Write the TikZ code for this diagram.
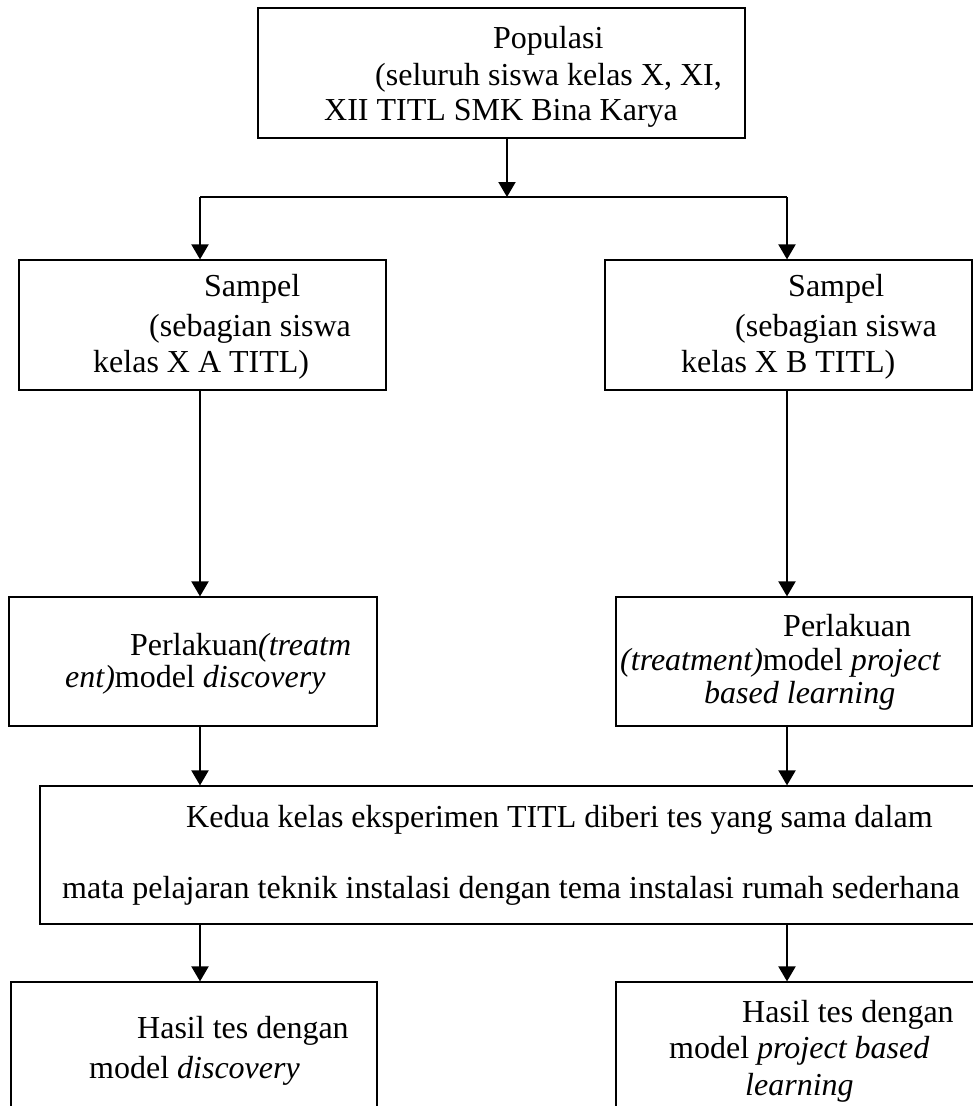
\documentclass[tikz,border=0pt]{standalone}
\usepackage{fontspec}
\setmainfont{Liberation Serif}
\usetikzlibrary{arrows.meta}

\begin{document}
\begin{tikzpicture}[x=1pt, y=-1pt,
        box/.style={draw, line width=1.2pt, inner sep=0pt},
        txt/.style={anchor=base west, inner sep=0pt, font=\fontsize{32}{37}\selectfont},
        arr/.style={line width=2pt, -{Triangle[length=15pt, width=17pt]}}]
        \useasboundingbox (0, 0) rectangle (973, 1106);
        \clip (0, 0) rectangle (973, 1106);
        % boxes
        \node[box, minimum width=487pt, minimum height=130pt] (pop) at (501.5, 73) {};
        \node[box, minimum width=367pt, minimum height=130pt] (sampA) at (202.5, 325) {};
        \node[box, minimum width=367pt, minimum height=130pt] (sampB) at (788.5, 325) {};
        \node[box, minimum width=368pt, minimum height=129pt] (perlA) at (193, 661.5) {};
        \node[box, minimum width=356pt, minimum height=129pt] (perlB) at (794, 661.5) {};
        \node[box, minimum width=960pt, minimum height=138pt] (tes) at (520, 855) {};
        \node[box, minimum width=366pt, minimum height=148pt] (hasilA) at (194, 1056) {};
        \node[box, minimum width=384pt, minimum height=148pt] (hasilB) at (808, 1056) {};
        % texts
        \node[txt] (popT1) at (493, 48) {Populasi};
        \node[txt] (popT2) at (375, 85) {(seluruh siswa kelas X, XI,};
        \node[txt] (popT3) at (324, 120) {XII TITL SMK Bina Karya};
        \node[txt] (sampAT1) at (204, 296) {Sampel};
        \node[txt] (sampAT2) at (149, 336) {(sebagian siswa};
        \node[txt] (sampAT3) at (93, 372) {kelas X A TITL)};
        \node[txt] (sampBT1) at (788, 296) {Sampel};
        \node[txt] (sampBT2) at (735, 336) {(sebagian siswa};
        \node[txt] (sampBT3) at (681, 372) {kelas X B TITL)};
        \node[txt] (perlAT1) at (130, 655) {Perlakuan\textit{(treatm}};
        \node[txt] (perlAT2) at (65, 687) {\textit{ent)}model \textit{discovery}};
        \node[txt] (perlBT1) at (783, 636) {Perlakuan};
        \node[txt] (perlBT2) at (620, 670) {\textit{(treatment)}model \textit{project}};
        \node[txt] (perlBT3) at (704, 703) {\textit{based learning}};
        \node[txt] (tesT1) at (186, 827) {Kedua kelas eksperimen TITL diberi tes yang sama dalam};
        \node[txt] (tesT2) at (62, 898) {mata pelajaran teknik instalasi dengan tema instalasi rumah sederhana};
        \node[txt] (hasilAT1) at (137, 1038) {Hasil tes dengan};
        \node[txt] (hasilAT2) at (89, 1078) {model \textit{discovery}};
        \node[txt] (hasilBT1) at (742, 1022) {Hasil tes dengan};
        \node[txt] (hasilBT2) at (669, 1058) {model \textit{project based}};
        \node[txt] (hasilBT3) at (745, 1095) {\textit{learning}};
        % connectors
        \coordinate (split) at (507, 197);
        \coordinate (colA) at (200, 197);
        \coordinate (colB) at (787, 197);
        \draw[arr] (split |- pop.south) -- (split);
        \draw[line width=2pt] (colA) -- (colB);
        \draw[arr] (colA) -- (colA |- sampA.north);
        \draw[arr] (colB) -- (colB |- sampB.north);
        \draw[arr] (colA |- sampA.south) -- (colA |- perlA.north);
        \draw[arr] (colB |- sampB.south) -- (colB |- perlB.north);
        \draw[arr] (colA |- perlA.south) -- (colA |- tes.north);
        \draw[arr] (colB |- perlB.south) -- (colB |- tes.north);
        \draw[arr] (colA |- tes.south) -- (colA |- hasilA.north);
        \draw[arr] (colB |- tes.south) -- (colB |- hasilB.north);
\end{tikzpicture}
\end{document}
